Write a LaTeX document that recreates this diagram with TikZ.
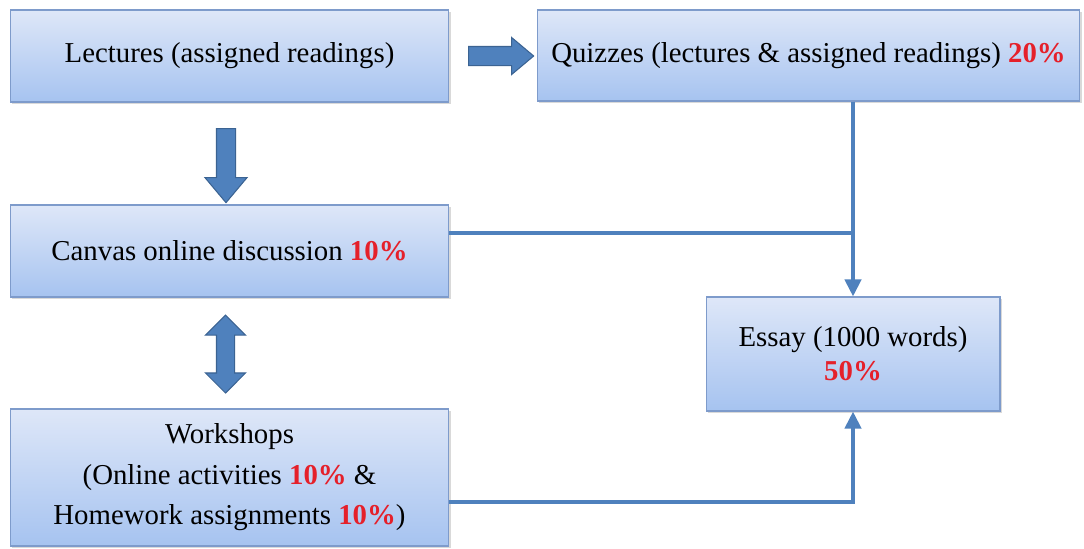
\documentclass[tikz,border=0pt]{standalone}
\usepackage{fontspec}
\setmainfont{Liberation Serif}
\usetikzlibrary{calc,shapes.arrows,shadows,arrows.meta}
\definecolor{boxtop}{HTML}{DEE7F8}
\definecolor{boxbot}{HTML}{A6C3F0}
\definecolor{boxline}{HTML}{7E9BCB}
\definecolor{flowblue}{HTML}{4F81BD}
\definecolor{flowdark}{HTML}{3B6392}
\definecolor{pctred}{HTML}{E5202A}
\def\Pct#1{\textcolor{pctred}{\textbf{#1}}}
\tikzset{
  stage/.style={draw=boxline, line width=0.6pt, top color=boxtop, bottom color=boxbot,
    drop shadow={opacity=0.3, shadow xshift=0.04cm, shadow yshift=-0.04cm},
    align=center, inner sep=0pt, font=\fontsize{16.4}{20}\selectfont},
  block arrow/.style={single arrow, fill=flowblue, draw=flowdark, line width=0.6pt,
    inner xsep=0pt, inner ysep=0.18cm, single arrow head extend=0.18cm,
    single arrow tip angle=80},
  twin arrow/.style={double arrow, fill=flowblue, draw=flowdark, line width=0.6pt,
    inner xsep=0pt, inner ysep=0.17cm, double arrow head extend=0.22cm,
    double arrow tip angle=90},
  flow/.style={draw=flowblue, line width=0.08cm},
  flow tip/.style={flow, -{Triangle[width=0.32cm,length=0.34cm]}}
}
\begin{document}
\begin{tikzpicture}[x=0.02cm, y=-0.02cm]
\useasboundingbox (0,0) rectangle (1084,548);
% boxes
\node[stage, minimum width=8.78cm, minimum height=1.84cm] (lectures) at (229.5,56)
  {Lectures (assigned readings)};
\node[stage, minimum width=10.86cm, minimum height=1.82cm] (quizzes) at (808.5,55.5)
  {Quizzes (lectures \& assigned readings) \Pct{20\%}};
\node[stage, minimum width=8.78cm, minimum height=1.84cm] (canvas) at (229.5,251)
  {Canvas online discussion \Pct{10\%}};
\node[stage, minimum width=8.78cm, minimum height=2.74cm] (workshops) at (229.5,477.5)
  {Workshops\\[3pt] (Online activities \Pct{10\%} \&\\[3pt] Homework assignments \Pct{10\%})};
\node[stage, minimum width=5.88cm, minimum height=2.28cm] (essay) at (853,354)
  {Essay (1000 words)\\[-0.6pt] \Pct{50\%}};
% block arrows
\node[block arrow, minimum height=1.3cm] (toquiz) at (495.5,56) {};
\node[block arrow, minimum height=1.48cm, rotate=-90, single arrow head extend=0.23cm] (todisc) at (226,160) {};
\node[twin arrow, minimum height=1.56cm, rotate=90] (discwork) at (225.5,354) {};
% connectors
\coordinate (discout) at ([yshift=0.36cm]canvas.east);
\coordinate (workout) at ([yshift=-0.48cm]workshops.east);
\draw[flow tip] (essay.north |- quizzes.south) -- (essay.north);
\draw[flow] (discout) -- (discout -| essay.north);
\draw[flow tip] (workout) -- (workout -| essay.south) -- (essay.south);
\end{tikzpicture}
\end{document}
